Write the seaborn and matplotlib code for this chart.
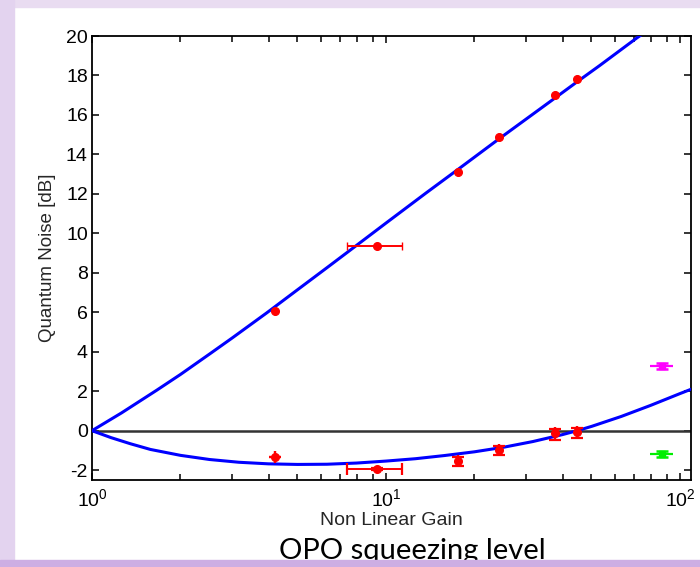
import matplotlib
matplotlib.use("Agg")
import matplotlib.pyplot as plt
from matplotlib.patches import Rectangle
import seaborn as sns
import pandas as pd

# theory curves (gain, dB)
anti_gain = [1, 1.26, 1.66, 2.0, 2.52, 3.0, 3.93, 5.0, 6.3, 7.94, 10, 13.7, 17.8, 24.2, 37.6, 44.6, 53.4, 71.3, 89]
anti_db = [0, 0.9, 2.05, 2.85, 3.9, 4.7, 5.97, 7.14, 8.26, 9.39, 10.52, 12.05, 13.3, 14.78, 16.86, 17.67, 18.51, 19.9, 20.9]

sqz_gain = [1, 1.16, 1.35, 1.58, 2.0, 2.51, 3.16, 3.98, 5.0, 6.3, 7.94, 10, 12.6, 15.8, 20, 25.1,
            31.6, 39.8, 44.7, 50.1, 63.1, 79.4, 100, 110]
sqz_db = [0, -0.35, -0.66, -0.95, -1.25, -1.46, -1.6, -1.68, -1.71, -1.7, -1.64, -1.54, -1.42, -1.26,
          -1.07, -0.84, -0.55, -0.2, 0.0, 0.22, 0.72, 1.28, 1.88, 2.12]

# measured points
meas_gain = [4.19, 9.35, 17.6, 24.2, 37.6, 44.6]
meas_anti = [6.04, 9.34, 13.1, 14.89, 17.0, 17.8]
meas_sqz = [-1.32, -1.94, -1.54, -0.98, -0.13, -0.05]
sqz_err_lo = [0.0, 0.05, 0.25, 0.25, 0.34, 0.34]
sqz_err_hi = [0.0, 0.05, 0.19, 0.2, 0.2, 0.17]
gain_err_lo = [0, 1.99, 0, 0, 0, 0]
gain_err_hi = [0, 1.95, 0, 0, 0, 0]

# extra points at high gain
extra_gain = [86.7, 86.7]
extra_db = [3.3, -1.18]
extra_colors = ["#ff00ff", "#00ee00"]
extra_gain_lo = 7.8
extra_gain_hi = 8.2
extra_db_err = 0.15

zero_level = 0
yticks = list(range(-2, 21, 2))

sns.set_style("ticks")
plt.rcParams["font.family"] = ["Liberation Sans", "DejaVu Sans"]
plt.rcParams["axes.unicode_minus"] = False

fig = plt.figure(figsize=(7, 5.67), dpi=100)
fig.patch.set_facecolor("white")
ax = fig.add_axes([0.1314, 0.1534, 0.8557, 0.7831])

anti = pd.DataFrame({"gain": anti_gain, "db": anti_db})
sqz = pd.DataFrame({"gain": sqz_gain, "db": sqz_db})
sns.lineplot(data=anti, x="gain", y="db", color="#0000ff", lw=2.2, ax=ax, zorder=3)
sns.lineplot(data=sqz, x="gain", y="db", color="#0000ff", lw=2.2, ax=ax, zorder=3)
ax.axhline(zero_level, color="#333333", lw=1.8, zorder=2)

# anti-squeezing points
ax.errorbar(meas_gain, meas_anti, xerr=[gain_err_lo, gain_err_hi], fmt="o",
            color="#ff0000", ms=5.5, elinewidth=1.4, capsize=3, zorder=4)
# squeezing points
ax.errorbar(meas_gain, meas_sqz, xerr=[gain_err_lo, gain_err_hi],
            yerr=[sqz_err_lo, sqz_err_hi], fmt="o", color="#ff0000", ms=5.5,
            elinewidth=1.4, capsize=4.5, capthick=1.6, zorder=4)

for g, d, c in zip(extra_gain, extra_db, extra_colors):
    ax.errorbar([g], [d], xerr=[[extra_gain_lo], [extra_gain_hi]], fmt="none",
                color=c, elinewidth=1.6, capsize=0, zorder=4)
    ax.errorbar([g], [d], yerr=extra_db_err, fmt="s", color=c, ms=4,
                elinewidth=2.5, capsize=4.5, capthick=1.8, zorder=4)

ax.set_xscale("log")
ax.set_xlim(1, 109)
ax.set_ylim(-2.5, 20)
ax.set_yticks(yticks)
ax.set_yticklabels([str(v) for v in yticks])

ax.tick_params(which="both", direction="in", top=True, right=True, colors="black",
               labelsize=14, width=1.1)
ax.tick_params(which="major", length=5)
ax.tick_params(which="minor", length=4)
ax.tick_params(axis="x", pad=6)
ax.tick_params(axis="y", pad=3)
for s in ax.spines.values():
    s.set_linewidth(1.3)
    s.set_color("black")

ax.set_xlabel("Non Linear Gain", fontsize=14, labelpad=1)
ax.set_ylabel("Quantum Noise [dB]", fontsize=13.5)
ax.yaxis.set_label_coords(-0.06, 0.5)

fig.text(0.5886, 0.0141, "OPO squeezing level", fontsize=21, family=["Lato", "DejaVu Sans"],
         ha="center", va="baseline", color="black")

# slide border
fig.patches.append(Rectangle((0, 0.9877), 1, 0.0123, transform=fig.transFigure,
                             color="#e9dcf1", zorder=10))
fig.patches.append(Rectangle((0, 0), 0.02, 1, transform=fig.transFigure,
                             color="#e3d3ef", zorder=10))
fig.patches.append(Rectangle((0, 0), 1, 0.0123, transform=fig.transFigure,
                             color="#cdaee3", zorder=10))

fig.savefig("out.png", dpi=100, facecolor=fig.get_facecolor())
